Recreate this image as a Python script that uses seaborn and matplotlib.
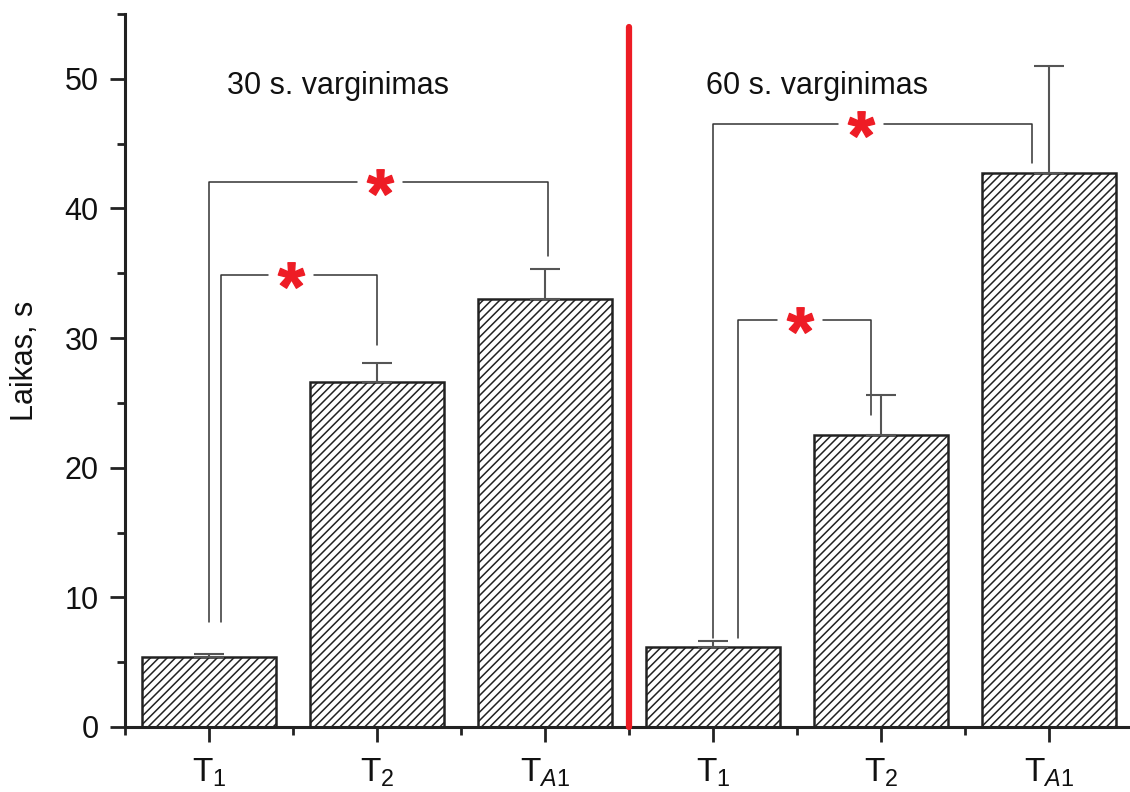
import numpy as np
import pandas as pd
import matplotlib
matplotlib.use("Agg")
import matplotlib.pyplot as plt
import seaborn as sns

# duomenys
keys = ["T1_30", "T2_30", "TA1_30", "T1_60", "T2_60", "TA1_60"]
tick_labels = ["T$_1$", "T$_2$", "T$_{A1}$", "T$_1$", "T$_2$", "T$_{A1}$"]
laikas = [5.4, 26.6, 33.0, 6.2, 22.5, 42.7]
paklaida = [0.2, 1.5, 2.3, 0.45, 3.1, 8.3]

grupiu_tekstai = ["30 s. varginimas", "60 s. varginimas"]
grupiu_x = [0.107, 2.96]
grupiu_y = [48.8, 48.8]

# reiksmingumo skliaustai
br_x0 = [0.0, 0.07, 3.0, 3.15]
br_x1 = [2.02, 1.0, 4.9, 3.94]
br_top = [42.05, 34.85, 46.5, 31.4]
br_left_bottom = [8.1, 8.1, 6.9, 6.9]
br_right_bottom = [36.3, 29.5, 43.5, 24.1]
star_x = [1.015, 0.49, 3.88, 3.52]

df = pd.DataFrame({"grupe": keys, "Laikas": laikas})

sns.set_style("ticks")
plt.rcParams["font.family"] = ["Liberation Sans", "DejaVu Sans"]
plt.rcParams["mathtext.fontset"] = "custom"
plt.rcParams["mathtext.rm"] = "Liberation Sans"
plt.rcParams["mathtext.it"] = "Liberation Sans:italic"
plt.rcParams["mathtext.bf"] = "Liberation Sans:bold"
plt.rcParams["hatch.linewidth"] = 1.1

fig = plt.figure(figsize=(11.3, 7.92), dpi=100)
ax = fig.add_axes([125 / 1130, 65 / 792, 1008 / 1130, 713 / 792])

sns.barplot(x="grupe", y="Laikas", data=df, order=keys, color="white",
            saturation=1, edgecolor="#222222", linewidth=1.8, hatch="////",
            width=0.8, errorbar=None, ax=ax)

pos = np.arange(len(keys))
ax.errorbar(pos, laikas, yerr=[np.zeros(len(keys)), paklaida], fmt="none",
            ecolor="#555555", elinewidth=1.5, capsize=11, capthick=1.5, zorder=3)

# raudona skiriamoji linija
ax.plot([2.5, 2.5], [0, 54], color="#ed1c24", lw=4.5, solid_capstyle="round",
        zorder=6, clip_on=False)

gap = 0.137
for x0, x1, yt, yl, yr, sx in zip(br_x0, br_x1, br_top, br_left_bottom,
                                   br_right_bottom, star_x):
    ax.plot([x0, x0, sx - gap], [yl, yt, yt], color="#333333", lw=1.1)
    ax.plot([sx + gap, x1, x1], [yt, yt, yr], color="#333333", lw=1.1)
    ax.plot([sx], [yt], marker="$\\mathbf{*}$", ms=19, color="#ee1c25",
            linestyle="none")

for t, x, y in zip(grupiu_tekstai, grupiu_x, grupiu_y):
    ax.text(x, y, t, ha="left", va="baseline", fontsize=22, color="#111111")

ax.set_xlim(-0.5, 5.5)
ax.set_ylim(0, 55)
ax.set_yticks(np.arange(0, 51, 10))
ax.set_yticks(np.arange(5, 56, 10), minor=True)
ax.set_xticks(pos)
ax.set_xticks(np.arange(-0.5, 6, 1), minor=True)
ax.set_xticklabels(tick_labels)
ax.set_xlabel("")
ax.set_ylabel("Laikas, s", fontsize=22, color="#111111")
ax.yaxis.set_label_coords(-0.084, 0.513)

ax.tick_params(which="major", length=11, width=2, labelsize=22, pad=8,
               color="#222222", labelcolor="#111111")
ax.tick_params(axis="x", which="major", labelsize=24, pad=10)
ax.tick_params(which="minor", length=5.5, width=2, color="#222222")
for s in ["top", "right"]:
    ax.spines[s].set_visible(False)
for s in ["left", "bottom"]:
    ax.spines[s].set_linewidth(2.2)
    ax.spines[s].set_color("#222222")

fig.savefig("out.png", dpi=100, facecolor="white")
